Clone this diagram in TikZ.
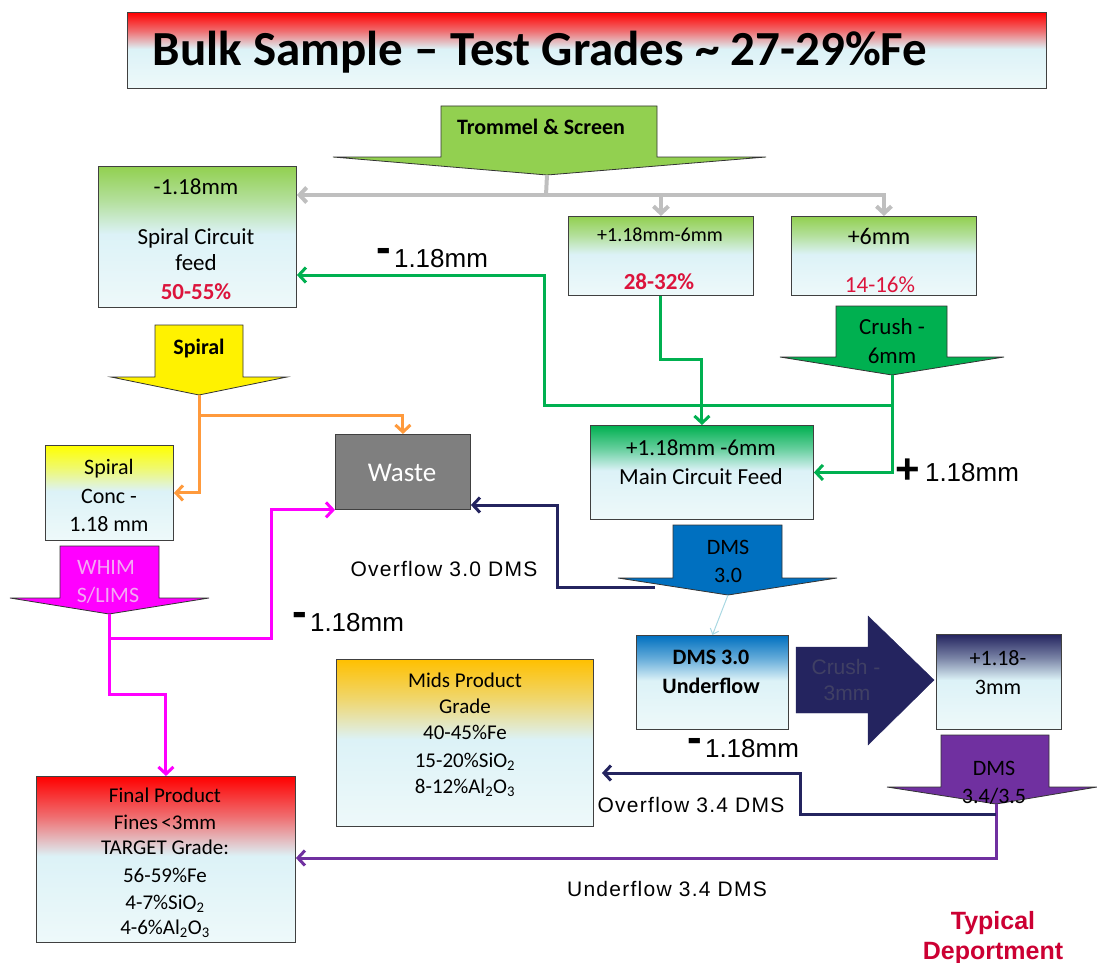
\documentclass[tikz,border=0pt]{standalone}
\usepackage{fontspec}
\setmainfont{Carlito}
\newfontfamily\arialf{Liberation Sans}
\newfontfamily\arialsp{Liberation Sans}[LetterSpace=6]
\usetikzlibrary{arrows.meta,calc}
\definecolor{gA}{HTML}{92D050}
\definecolor{gB}{HTML}{00B050}
\definecolor{cyA}{HTML}{DCF2F7}
\definecolor{cyB}{HTML}{EEF9FA}
\definecolor{blu}{HTML}{0070C0}
\definecolor{nav}{HTML}{24245F}
\definecolor{pur}{HTML}{7030A0}
\definecolor{org}{HTML}{FF9A3C}
\definecolor{mag}{HTML}{FF00FF}
\definecolor{gold}{HTML}{FFC000}
\definecolor{crim}{HTML}{DC143C}
\definecolor{lgr}{HTML}{BFBFBF}
\definecolor{wpink}{HTML}{F4A8F4}
\definecolor{navtxt}{HTML}{404064}
\definecolor{typ}{HTML}{CC0033}
\definecolor{lbl}{HTML}{A9D8E2}
\definecolor{wgrey}{HTML}{7F7F7F}
\colorlet{topc}{red}
\colorlet{topm}{red}
\pgfdeclareverticalshading[topc,topm]{boxshade}{100bp}{color(0bp)=(cyB); color(25bp)=(cyB); color(51bp)=(cyA); color(63bp)=(topm); color(75bp)=(topc); color(100bp)=(topc)}
\begin{document}
\begin{tikzpicture}[x=1pt,y=1pt,
  box/.style={draw=black!75, line width=0.9pt, anchor=north west, inner sep=0pt},
  gbox/.style={box, /utils/exec={\colorlet{topc}{#1}\colorlet{topm}{#1!55!cyA}}, shading=boxshade},
  blk/.style={draw=black!80, line width=0.8pt, line join=miter},
  cf/.style={font=\fontsize{#1}{#1}\selectfont, inner sep=0pt, text height=0pt, text depth=0pt, yshift={-0.32*#1}},
  cb/.style={cf=#1, font=\fontsize{#1}{#1}\selectfont\bfseries},
  af/.style={font=\arialf\fontsize{#1}{#1}\selectfont, inner sep=0pt, text height=0pt, text depth=0pt, yshift={-0.36*#1}},
  as/.style={af=#1, font=\arialsp\fontsize{#1}{#1}\selectfont},
  ab/.style={af=#1, font=\arialf\fontsize{#1}{#1}\selectfont\bfseries},
  flow/.style={line width=3pt, line join=miter, -{Straight Barb[length=7pt,width=15pt]}},
  greyflow/.style={flow, line width=4pt, draw=lgr},
  gflow/.style={flow, draw=gB},
  oflow/.style={flow, draw=org},
  mflow/.style={flow, draw=mag},
  nflow/.style={flow, draw=nav},
  pflow/.style={flow, draw=pur},
]
\useasboundingbox (0,0) rectangle (1097,-963);

% ---------- title
\node[gbox=red, minimum width=919pt, minimum height=76pt] (title) at (127,-12) {};
\node[cb=49] (titletext) at (540,-50) {Bulk Sample -- Test Grades \char"007E{} 27-29\%Fe};

% ---------- block arrows
\filldraw[blk, fill=gA] (441,-106) -- (657,-106) -- (657,-157) -- (766,-157) -- (547,-175) coordinate (trtip) -- (333,-157) -- (441,-157) -- cycle;
\node[cb=22] (trtext) at (541,-127) {Trommel \& Screen};

\filldraw[blk, fill=gB] (836,-306) -- (947,-306) -- (947,-357) -- (1004,-357) -- (892,-375) coordinate (c6tip) -- (780,-357) -- (836,-357) -- cycle;
\node[cf=23] (c6a) at (892,-327) {Crush -};
\node[cf=23] (c6b) at (892,-356) {6mm};

\filldraw[blk, fill=yellow] (155,-325) -- (243,-325) -- (243,-377) -- (287,-377) -- (199,-395) coordinate (sptip) -- (111,-377) -- (155,-377) -- cycle;
\node[cb=22] (sptext) at (199,-347) {Spiral};

\filldraw[blk, fill=mag] (60,-546) -- (159,-546) -- (159,-598) -- (209,-598) -- (109,-614) coordinate (whtip) -- (10,-598) -- (60,-598) -- cycle;
\node[cf=22, text=wpink] (wha) at (106,-567) {WHIM};
\node[cf=22, text=wpink] (whb) at (108,-595) {S/LIMS};

\filldraw[blk, fill=blu] (673,-525) -- (782,-525) -- (782,-578) -- (837,-578) -- (728,-595) coordinate (d3tip) -- (618,-578) -- (673,-578) -- cycle;
\coordinate (d3out) at (655,-587);
\node[cf=22] (d3a) at (728,-547) {DMS};
\node[cf=22] (d3b) at (728,-575) {3.0};

\filldraw[draw=nav, fill=nav] (796,-647) -- (868,-647) -- (868,-616) -- (934,-680) -- (868,-745) -- (868,-713) -- (796,-713) -- cycle;
\node[af=21, text=navtxt] (c3a) at (846,-667) {Crush -};
\node[af=21, text=navtxt] (c3b) at (847,-693) {3mm};

\filldraw[blk, fill=pur] (941,-735) -- (1049,-735) -- (1049,-787) -- (1097,-787) -- (996,-804) coordinate (d34tip) -- (887,-787) -- (941,-787) -- cycle;
\node[cf=22] (d34a) at (994,-768) {DMS};
\node[cf=22] (d34b) at (994,-796) {3.4/3.5};

% ---------- boxes
\node[gbox=gA, minimum width=198pt, minimum height=141pt] (spiralbox) at (98,-166) {};
\node[cf=23] (sb1) at (196,-187) {-1.18mm};
\node[cf=23] (sb2) at (196,-237) {Spiral Circuit};
\node[cf=23] (sb3) at (196,-263) {feed};
\node[cb=23, text=crim] (sb4) at (196,-292) {50-55\%};

\node[gbox=gA, minimum width=185pt, minimum height=79pt] (b2) at (568,-216) {};
\node[cf=20] (b2a) at (660,-235) {+1.18mm-6mm};
\node[cb=23, text=crim] (b2b) at (659,-282) {28-32\%};

\node[gbox=gA, minimum width=185pt, minimum height=79pt] (b3) at (791,-216) {};
\node[cf=24] (b3a) at (879,-237) {+6mm};
\node[cf=23, text=crim] (b3b) at (880,-285) {14-16\%};

\node[gbox=gB, minimum width=223pt, minimum height=94pt] (mainbox) at (590,-425) {};
\node[cf=23] (mb1) at (701,-448) {+1.18mm -6mm};
\node[cf=23] (mb2) at (701,-477) {Main Circuit Feed};

\node[gbox=yellow, minimum width=128pt, minimum height=95pt] (concbox) at (45,-445) {};
\node[cf=22] (cb1) at (109,-467) {Spiral};
\node[cf=22] (cb2) at (109,-496) {Conc -};
\node[cf=22] (cb3) at (109,-524) {1.18 mm};

\node[box, fill=wgrey, minimum width=135pt, minimum height=75pt] (waste) at (335,-434) {};
\node[cf=27, text=white] (wt) at (402,-473) {Waste};

\node[gbox=red, minimum width=259pt, minimum height=166pt] (finalbox) at (36,-776) {};
\node[cf=21] (f1) at (165,-796) {Final Product};
\node[cf=21] (f2) at (165,-823) {Fines\,<3mm};
\node[cf=21] (f3) at (165,-848) {TARGET Grade:};
\node[cf=21] (f4) at (165,-876) {56-59\%Fe};
\node[cf=21] (f5) at (165,-903) {4-7\%SiO\textsubscript{2}};
\node[cf=21] (f6) at (165,-928) {4-6\%Al\textsubscript{2}O\textsubscript{3}};

\node[gbox=gold, minimum width=257pt, minimum height=167pt] (mids) at (336,-659) {};
\node[cf=21] (m1) at (465,-681) {Mids Product};
\node[cf=21] (m2) at (465,-707) {Grade};
\node[cf=21] (m3) at (465,-733) {40-45\%Fe};
\node[cf=21] (m4) at (465,-761) {15-20\%SiO\textsubscript{2}};
\node[cf=21] (m5) at (465,-787) {8-12\%Al\textsubscript{2}O\textsubscript{3}};

\node[gbox=blu, minimum width=152pt, minimum height=94pt] (uflow) at (636,-635) {};
\node[cb=22] (u1) at (711,-657) {DMS 3.0};
\node[cb=22] (u2) at (711,-686) {Underflow};

\node[gbox=nav, minimum width=125pt, minimum height=95pt] (b3mm) at (936,-634) {};
\node[cf=22] (r1) at (998,-658) {+1.18-};
\node[cf=22] (r2) at (998,-687) {3mm};

% ---------- connectors
\draw[line width=4pt, draw=lgr] (trtip) -- (546,-195) coordinate (gsplit);
\draw[greyflow] (gsplit) -- (spiralbox.east |- gsplit);
\draw[greyflow] (gsplit) -| (b2.north);
\draw[greyflow] (gsplit) -| (b3.north);

\draw[gflow] (b2.south) -- (b2.south |- 0,-359) -| (mainbox.north);
\draw[gflow] (c6tip) -- (c6tip |- 0,-405) coordinate (gj) -- (544,-405) |- (spiralbox.east |- 0,-275);
\draw[gflow] (gj) |- (mainbox.east);

\draw[oflow] (sptip) |- (concbox.east);
\draw[oflow] (sptip |- 0,-415) -| (waste.north);

\draw[mflow] (whtip) -- (whtip |- 0,-638) coordinate (mj) -- (271,-638) |- (waste.south west);
\draw[mflow] (mj) -- (mj |- 0,-694) -| (finalbox.north);

\draw[nflow] (d3out) -- (557,-587) |- (waste.east |- 0,-505);
\draw[line width=1pt, draw=lbl, -{Straight Barb[length=5pt,width=9pt]}] (d3tip) -- (uflow.north);

\draw[pflow] (d34tip) |- (finalbox.east |- 0,-858);
\draw[nflow, shorten >=8pt] (d34tip |- 0,-814) -- (800,-814) |- (mids.east |- 0,-773);

% ---------- labels
\node[af=26] (l1) at (441,-258) {1.18mm};
\node[ab=44] (l1m) at (384,-247) {-};
\node[af=26] (l2) at (357,-622) {1.18mm};
\node[ab=44] (l2m) at (300,-611) {-};
\node[af=26] (l3) at (752,-748) {1.18mm};
\node[ab=44] (l3m) at (695,-737) {-};
\node[af=26] (l4) at (972,-472) {1.18mm};
\node[ab=42] (l4p) at (908,-468) {+};
\node[as=21] (o1) at (444,-569) {Overflow 3.0 DMS};
\node[as=21] (o2) at (691,-805) {Overflow 3.4 DMS};
\node[as=21] (o3) at (667,-889) {Underflow 3.4 DMS};
\node[ab=25, text=typ] (ty1) at (993,-920) {Typical};
\node[ab=25, text=typ] (ty2) at (993,-950) {Deportment};
\end{tikzpicture}
\end{document}
